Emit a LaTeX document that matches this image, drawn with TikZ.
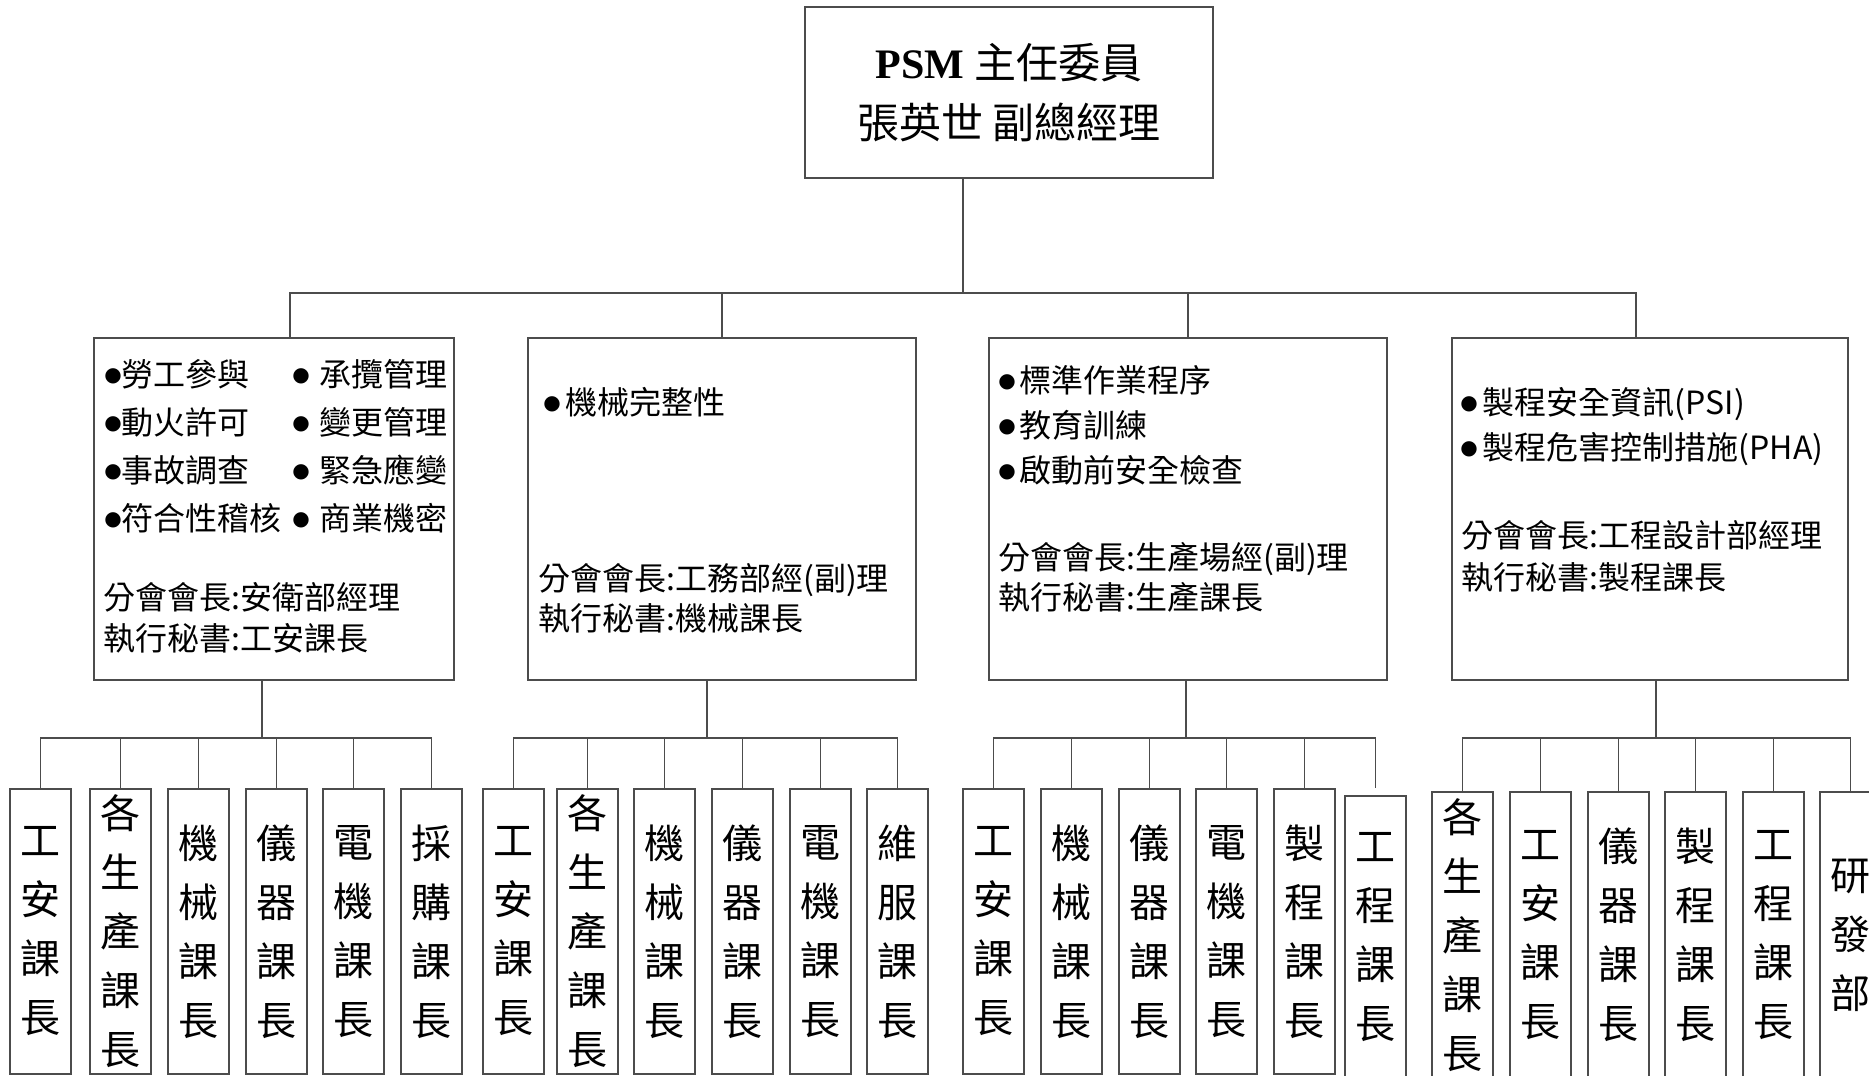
\documentclass[tikz,border=0pt]{standalone}
\usepackage{fontspec}
\setmainfont{Liberation Serif}
\newfontfamily\tc{Noto Sans CJK TC}
\newfontfamily\dejavu{DejaVu Sans}
\usetikzlibrary{positioning}

% bullet with a gap after it
\newcommand{\dotitem}[1]{\raisebox{2.5pt}{\fontsize{10pt}{10pt}\dejavu ●}\hspace{#1}}

\begin{document}
\begin{tikzpicture}[
    x=0.5pt, y=-0.5pt,
    conn/.style={draw=black!70, line width=0.6pt},
    chief/.style={conn, minimum width=204pt, minimum height=85.5pt, align=center, font=\tc\fontsize{21pt}{30pt}\selectfont},
    panel/.style={conn, minimum height=171pt, inner sep=0pt},
    info/.style={anchor=base west, inner sep=0pt, align=left, font=\tc\fontsize{16pt}{#1}\selectfont},
    leaf/.style={conn, minimum width=30.5pt, minimum height=142.5pt, inner sep=0pt, align=center, font=\tc\fontsize{20pt}{29.5pt}\selectfont}
]
    \useasboundingbox (0,0) rectangle (1869,1076);
    \clip (0,0) rectangle (1869,1076);

    % Top
    \node[chief] (chief) at (1009,92.5) {{\rmfamily\bfseries PSM} 主任委員\\張英世 副總經理};

    % Sub-committees
    \node[panel, minimum width=180pt] (p1) at (274,509) {};
    \node[panel, minimum width=194pt] (p2) at (722,509) {};
    \node[panel, minimum width=199pt] (p3) at (1188,509) {};
    \node[panel, minimum width=198pt] (p4) at (1650,509) {};

    % (base of a multi-line node = its last line)
    \node[info=24pt] (p1a) at (104,530) {\dotitem{0pt}勞工參與\\\dotitem{0pt}動火許可\\\dotitem{0pt}事故調查\\\dotitem{0pt}符合性稽核};
    \node[info=24pt] (p1b) at (292,530) {\dotitem{5pt}承攬管理\\\dotitem{5pt}變更管理\\\dotitem{5pt}緊急應變\\\dotitem{5pt}商業機密};
    \node[info=20.5pt] (p1c) at (103,650) {分會會長:安衛部經理\\執行秘書:工安課長};

    \node[info=24pt] (p2a) at (543,414) {\dotitem{2.5pt}機械完整性};
    \node[info=20pt] (p2c) at (538,630) {分會會長:工務部經(副)理\\執行秘書:機械課長};

    \node[info=22.5pt] (p3a) at (998,482) {\dotitem{2pt}標準作業程序\\\dotitem{2pt}教育訓練\\\dotitem{2pt}啟動前安全檢查};
    \node[info=20pt] (p3c) at (998,609) {分會會長:生產場經(副)理\\執行秘書:生產課長};

    \node[info=22.5pt] (p4a) at (1460,459) {\dotitem{2.5pt}製程安全資訊(PSI)\\\dotitem{2.5pt}製程危害控制措施(PHA)};
    \node[info=21pt] (p4c) at (1461,589) {分會會長:工程設計部經理\\執行秘書:製程課長};

    % Section chiefs
    \node[leaf] (l11) at (40.5,931.5) {工\\安\\課\\長};
    \node[leaf] (l12) at (120.5,931.5) {各\\生\\產\\課\\長};
    \node[leaf] (l13) at (198.5,931.5) {機\\械\\課\\長};
    \node[leaf] (l14) at (276.5,931.5) {儀\\器\\課\\長};
    \node[leaf] (l15) at (353.5,931.5) {電\\機\\課\\長};
    \node[leaf] (l16) at (431.5,931.5) {採\\購\\課\\長};

    \node[leaf] (l21) at (513.5,931.5) {工\\安\\課\\長};
    \node[leaf] (l22) at (587.5,931.5) {各\\生\\產\\課\\長};
    \node[leaf] (l23) at (664.5,931.5) {機\\械\\課\\長};
    \node[leaf] (l24) at (742.5,931.5) {儀\\器\\課\\長};
    \node[leaf] (l25) at (820.5,931.5) {電\\機\\課\\長};
    \node[leaf] (l26) at (897.5,931.5) {維\\服\\課\\長};

    \node[leaf] (l31) at (993.5,931.5) {工\\安\\課\\長};
    \node[leaf] (l32) at (1071.5,931.5) {機\\械\\課\\長};
    \node[leaf] (l33) at (1149.5,931.5) {儀\\器\\課\\長};
    \node[leaf] (l34) at (1226.5,931.5) {電\\機\\課\\長};
    \node[leaf] (l35) at (1304.5,931.5) {製\\程\\課\\長};
    \node[leaf, minimum height=141pt] (l36) at (1375.5,937) {工\\程\\課\\長};

    \node[leaf, minimum height=143pt] (l41) at (1462.5,935) {各\\生\\產\\課\\長};
    \node[leaf, minimum height=143pt] (l42) at (1540.5,935) {工\\安\\課\\長};
    \node[leaf, minimum height=143pt] (l43) at (1618.5,935) {儀\\器\\課\\長};
    \node[leaf, minimum height=143pt] (l44) at (1695.5,935) {製\\程\\課\\長};
    \node[leaf, minimum height=143pt] (l45) at (1773.5,935) {工\\程\\課\\長};
    \node[leaf, minimum height=143pt] (l46) at (1850.5,935) {研\\發\\部};

    % Connectors
    \coordinate (hub) at (963,293);
    \draw[conn] (chief.south -| hub) -- (hub);
    \draw[conn] ([xshift=8pt]p1.north) |- (hub) -| (p2.north);
    \draw[conn] (hub) -| (p3.north);
    \draw[conn] (hub) -| ([xshift=-7pt]p4.north);

    \coordinate (s1) at (262,738);
    \coordinate (s2) at (707,738);
    \coordinate (s3) at (1186,738);
    \coordinate (s4) at (1656,738);
    \draw[conn] (p1.south -| s1) -- (s1);
    \draw[conn] (p2.south -| s2) -- (s2);
    \draw[conn] (p3.south -| s3) -- (s3);
    \draw[conn] (p4.south -| s4) -- (s4);

    \draw[conn] (s1) -| (l11.north) (s1) -| (l12.north) (s1) -| (l13.north)
        (s1) -| (l14.north) (s1) -| (l15.north) (s1) -| (l16.north);
    \draw[conn] (s2) -| (l21.north) (s2) -| (l22.north) (s2) -| (l23.north)
        (s2) -| (l24.north) (s2) -| (l25.north) (s2) -| (l26.north);
    \draw[conn] (s3) -| (l31.north) (s3) -| (l32.north) (s3) -| (l33.north)
        (s3) -| (l34.north) (s3) -| (l35.north) (s3) -| ([yshift=3.5pt]l36.north);
    \draw[conn] (s4) -| (l41.north) (s4) -| (l42.north) (s4) -| (l43.north)
        (s4) -| (l44.north) (s4) -| (l45.north) (s4) -| (l46.north);
\end{tikzpicture}
\end{document}
